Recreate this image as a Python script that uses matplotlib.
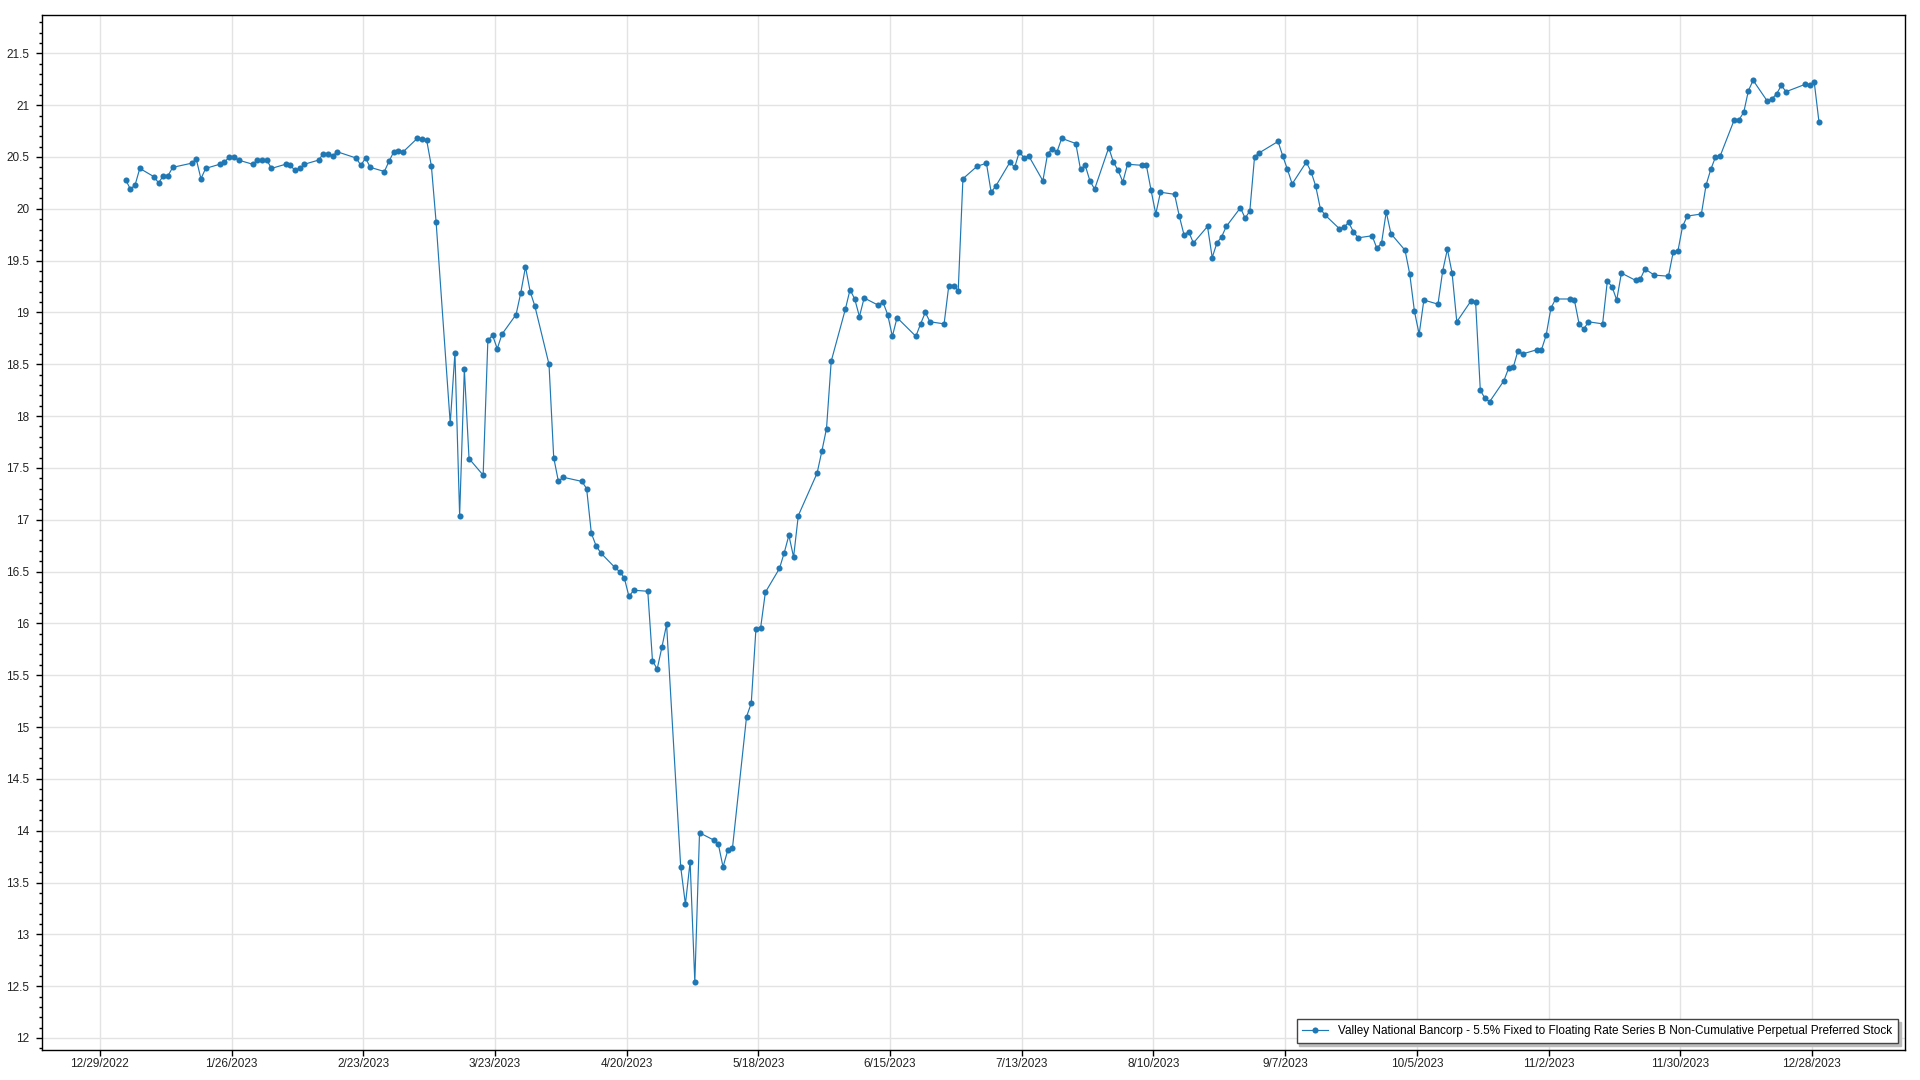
import numpy as np
import pandas as pd
import matplotlib
matplotlib.use("Agg")
import matplotlib.pyplot as plt
import matplotlib.dates as mdates
from matplotlib.ticker import MultipleLocator, FixedLocator

# NYSE trading days of 2023 (market holidays skipped)
holidays = ["2023-01-16", "2023-02-20", "2023-04-07", "2023-05-29", "2023-06-19",
            "2023-07-04", "2023-09-04", "2023-11-23", "2023-12-25"]

# closing prices, one list per month
jan = [20.28, 20.19, 20.23, 20.39, 20.31, 20.25, 20.32, 20.32, 20.40, 20.44,
       20.48, 20.29, 20.39, 20.43, 20.45, 20.50, 20.50, 20.47, 20.43, 20.47]
feb = [20.47, 20.47, 20.39, 20.43, 20.42, 20.37, 20.39, 20.43, 20.47, 20.53,
       20.53, 20.51, 20.55, 20.49, 20.42, 20.49, 20.40, 20.36, 20.46]
mar = [20.55, 20.56, 20.55, 20.68, 20.67, 20.66, 20.41, 19.87, 17.93, 18.61,
       17.04, 18.45, 17.59, 17.43, 18.73, 18.78, 18.65, 18.79, 18.98, 19.19,
       19.44, 19.20, 19.06]
apr = [18.50, 17.60, 17.37, 17.41, 17.37, 17.30, 16.87, 16.75, 16.68, 16.54,
       16.50, 16.44, 16.26, 16.32, 16.31, 15.64, 15.56, 15.77, 15.99]
may = [13.65, 13.29, 13.70, 12.54, 13.98, 13.91, 13.87, 13.65, 13.81, 13.83,
       15.10, 15.23, 15.95, 15.96, 16.30, 16.53, 16.68, 16.85, 16.64, 17.04,
       17.45, 17.66]
jun = [17.88, 18.53, 19.03, 19.22, 19.13, 18.96, 19.14, 19.07, 19.10, 18.98,
       18.77, 18.95, 18.77, 18.89, 19.00, 18.91, 18.89, 19.26, 19.26, 19.21,
       20.29]
jul = [20.41, 20.44, 20.16, 20.22, 20.45, 20.40, 20.55, 20.49, 20.51, 20.27,
       20.53, 20.58, 20.55, 20.68, 20.63, 20.38, 20.42, 20.27, 20.19, 20.59]
aug = [20.45, 20.37, 20.26, 20.43, 20.42, 20.42, 20.18, 19.95, 20.16, 20.14,
       19.93, 19.75, 19.78, 19.67, 19.83, 19.53, 19.67, 19.73, 19.83, 20.01,
       19.91, 19.98, 20.50]
sep = [20.54, 20.65, 20.51, 20.38, 20.24, 20.45, 20.36, 20.22, 20.00, 19.94,
       19.81, 19.82, 19.87, 19.78, 19.72, 19.74, 19.62, 19.67, 19.97, 19.76]
oct_ = [19.60, 19.37, 19.01, 18.79, 19.12, 19.08, 19.40, 19.61, 19.38, 18.91,
        19.11, 19.10, 18.25, 18.17, 18.14, 18.34, 18.46, 18.47, 18.63, 18.60,
        18.64, 18.64]
nov = [18.78, 19.04, 19.13, 19.13, 19.12, 18.89, 18.84, 18.91, 18.89, 19.30,
       19.25, 19.12, 19.38, 19.31, 19.32, 19.42, 19.36, 19.35, 19.58, 19.59,
       19.83]
dec = [19.93, 19.95, 20.23, 20.38, 20.50, 20.51, 20.86, 20.86, 20.93, 21.14,
       21.24, 21.04, 21.06, 21.11, 21.19, 21.13, 21.20, 21.19, 21.22, 20.84]

series_name = ("Valley National Bancorp - 5.5% Fixed to Floating Rate Series B "
               "Non-Cumulative Perpetual Preferred Stock")

prices = jan + feb + mar + apr + may + jun + jul + aug + sep + oct_ + nov + dec
dates = pd.bdate_range("2023-01-03", "2023-12-29", freq="C", holidays=holidays)
dates = dates + pd.Timedelta(hours=12)
assert len(dates) == len(prices)

tick_dates = pd.date_range("2022-12-29", periods=14, freq="28D")
tick_labels = [f"{d.month}/{d.day}/{d.year}" for d in tick_dates]

plt.rcParams["font.family"] = ["Liberation Sans", "DejaVu Sans"]

fig = plt.figure(figsize=(19.2, 10.8), dpi=100)
ax = fig.add_axes([42 / 1920, 1 - 1050 / 1080, (1905 - 42) / 1920, (1050 - 15) / 1080])

ax.plot(dates, prices, color="#1f77b4", lw=0.85, marker="o", ms=4.4,
        markeredgewidth=0, label=series_name, zorder=3)

ax.set_xlim(pd.Timestamp("2022-12-16 17:00"), pd.Timestamp("2024-01-16 19:00"))
ax.set_ylim(11.884, 21.87)

ax.xaxis.set_major_locator(FixedLocator(mdates.date2num(tick_dates)))
ax.set_xticklabels(tick_labels)
ax.yaxis.set_major_locator(MultipleLocator(0.5))
ax.yaxis.set_minor_locator(MultipleLocator(0.1))
ax.yaxis.set_major_formatter(plt.FuncFormatter(lambda v, p: f"{v:g}"))

ax.grid(True, which="major", color="#e3e3e3", lw=1.0, zorder=0)
ax.tick_params(axis="both", which="major", labelsize=8.5, labelcolor="#222222",
               length=4, width=1, direction="out", color="black")
ax.tick_params(axis="y", which="minor", length=2, width=1, color="black")
ax.tick_params(axis="x", pad=2)
ax.tick_params(axis="y", pad=5)
for s in ax.spines.values():
    s.set_color("black")
    s.set_linewidth(1.0)

leg = ax.legend(loc="lower right", fontsize=8.5, frameon=True, fancybox=False,
                shadow={"color": "#bbbbbb", "alpha": 1}, borderaxespad=0.6,
                handlelength=2.2, borderpad=0.5)
leg.get_frame().set_edgecolor("#444444")
leg.get_frame().set_linewidth(1.0)

fig.savefig("out.png", dpi=100, facecolor="white")
